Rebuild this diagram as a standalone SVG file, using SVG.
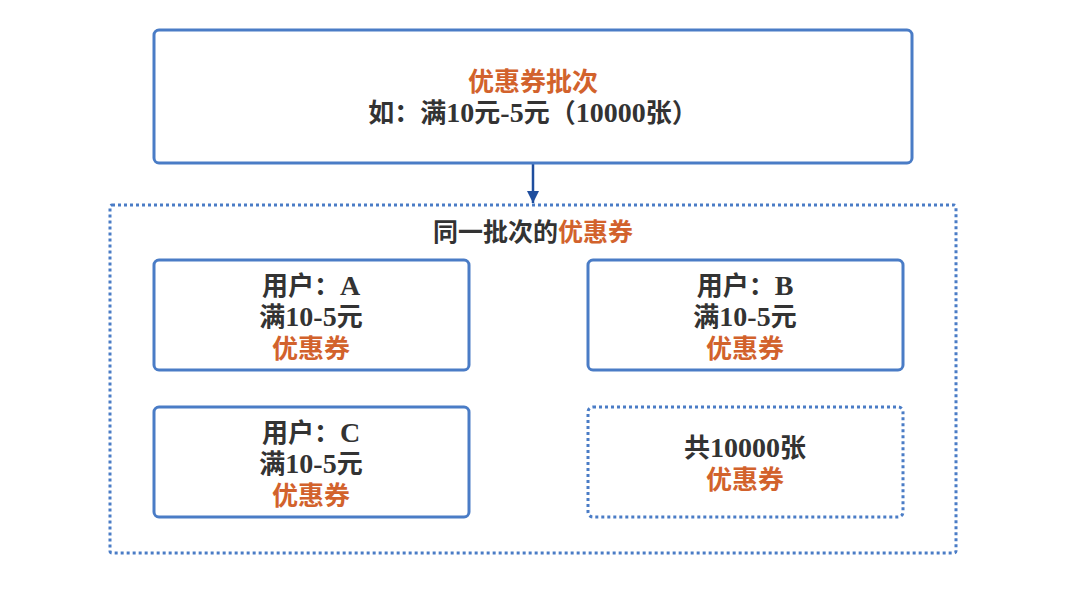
<svg xmlns="http://www.w3.org/2000/svg" width="1080" height="593" viewBox="0 0 1080 593">
<style>
.box{fill:#fff;stroke:#4a7cc6;stroke-width:3}
.dot{fill:none;stroke:#4a7cc6;stroke-width:3;stroke-dasharray:3 3}
text{font-family:"Liberation Serif","Noto Sans CJK SC",serif;font-weight:bold;text-anchor:middle;fill:#333}
.t{font-size:26px}
.l{font-size:28px}
.o{fill:#d2622c}
</style>
<defs>
<marker id="ah" markerWidth="12" markerHeight="12" refX="10" refY="5" orient="auto" markerUnits="userSpaceOnUse" viewBox="0 0 10 10">
<path d="M0,0 L10,5 L0,10 Z" fill="#1f4e9e"/>
</marker>
</defs>
<rect width="1080" height="593" fill="#fff"/>
<g id="connectors">
<line x1="533" y1="164" x2="533" y2="203" stroke="#1f4e9e" stroke-width="2.5" marker-end="url(#ah)"/>
</g>
<g id="batch">
<rect class="box" x="154" y="30" width="758" height="133" rx="5"/>
<text class="t" x="533" y="91"><tspan class="o">优惠券批次</tspan></text>
<text class="t" x="533" y="122">如：满<tspan class="l">10</tspan>元<tspan class="l">-5</tspan>元（<tspan class="l">10000</tspan>张）</text>
</g>
<g id="group">
<rect class="dot" x="110" y="205" width="846" height="348" rx="2"/>
<text x="533" y="241" style="font-size:25px">同一批次的<tspan class="o">优惠券</tspan></text>
</g>
<g id="userA">
<rect class="box" x="154" y="260" width="315" height="110" rx="5"/>
<text class="t" x="311" y="295">用户：<tspan class="l">A</tspan></text>
<text class="t" x="311" y="326">满<tspan class="l">10-5</tspan>元</text>
<text class="t o" x="311" y="358">优惠券</text>
</g>
<g id="userB">
<rect class="box" x="588" y="260" width="315" height="110" rx="5"/>
<text class="t" x="745" y="295">用户：<tspan class="l">B</tspan></text>
<text class="t" x="745" y="326">满<tspan class="l">10-5</tspan>元</text>
<text class="t o" x="745" y="358">优惠券</text>
</g>
<g id="userC">
<rect class="box" x="154" y="407" width="315" height="110" rx="5"/>
<text class="t" x="311" y="442">用户：<tspan class="l">C</tspan></text>
<text class="t" x="311" y="473">满<tspan class="l">10-5</tspan>元</text>
<text class="t o" x="311" y="505">优惠券</text>
</g>
<g id="total">
<rect class="dot" x="588" y="407" width="315" height="110" rx="5"/>
<text class="t" x="745" y="457">共<tspan class="l">10000</tspan>张</text>
<text class="t o" x="745" y="489">优惠券</text>
</g>
</svg>
